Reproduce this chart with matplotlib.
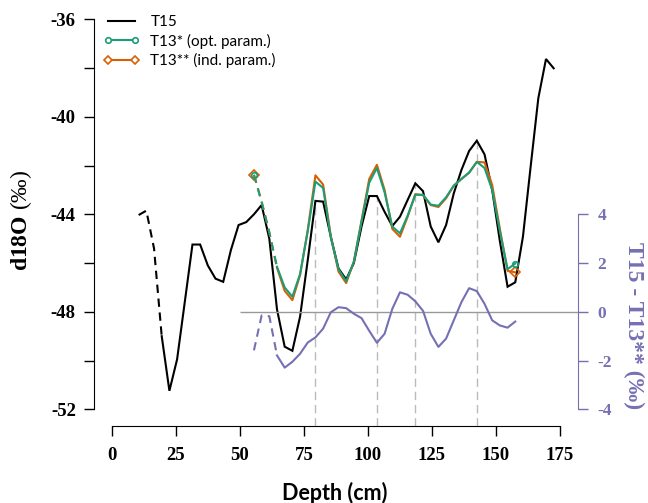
import matplotlib
matplotlib.use("Agg")
import matplotlib.pyplot as plt
from matplotlib.lines import Line2D

plt.rcParams['mathtext.fontset'] = 'custom'
plt.rcParams['mathtext.rm'] = 'Liberation Serif'
plt.rcParams['mathtext.bf'] = 'Liberation Serif:bold'
plt.rcParams['axes.unicode_minus'] = False

# ---------------- data ----------------
depth_t15 = [10.5, 13.5, 16.5, 19.5, 22.5, 25.5, 28.5, 31.5, 34.5, 37.5, 40.5, 43.5,
             46.5, 49.5, 52.5, 55.5, 58.5, 61.5, 64.5, 67.5, 70.5, 73.5, 76.5, 79.5,
             82.5, 85.5, 88.5, 91.5, 94.5, 97.5, 100.5, 103.5, 106.5, 109.5, 112.5,
             115.5, 118.5, 121.5, 124.5, 127.5, 130.5, 133.5, 136.5, 139.5, 142.5,
             145.5, 148.5, 151.5, 154.5, 157.5, 160.5, 163.5, 166.5, 169.5, 172.5]
t15 = [-44.03, -43.85, -45.4, -49.0, -51.24, -49.95, -47.6, -45.24, -45.24, -46.1, -46.64, -46.77,
       -45.47, -44.44, -44.32, -44.0, -43.62, -45.0, -47.9, -49.43, -49.6, -48.2, -45.88, -43.45,
       -43.48, -44.92, -46.22, -46.67, -46.0, -44.5, -43.25, -43.25, -43.9, -44.48, -44.1,
       -43.41, -42.73, -43.05, -44.5, -45.15, -44.44, -43.14, -42.18, -41.4, -40.98,
       -41.54, -43.0, -45.1, -46.97, -46.79, -44.92, -42.05, -39.24, -37.63, -38.01]
t15_gap_end = 3   # index where the dashed (gap) part of T15 ends

depth_t13 = [55.5, 58.5, 61.5, 64.5, 67.5, 70.5, 73.5, 76.5, 79.5, 82.5, 85.5, 88.5,
             91.5, 94.5, 97.5, 100.5, 103.5, 106.5, 109.5, 112.5, 115.5, 118.5, 121.5,
             124.5, 127.5, 130.5, 133.5, 136.5, 139.5, 142.5, 145.5, 148.5, 151.5,
             154.5, 157.5]
t13_opt = [-42.38, -43.5, -44.75, -46.15, -47.0, -47.38, -46.45, -44.7, -42.66, -42.92, -44.95, -46.25,
           -46.75, -45.95, -44.3, -42.7, -42.1, -43.1, -44.5, -44.78, -44.05, -43.2, -43.2,
           -43.6, -43.65, -43.3, -42.82, -42.55, -42.28, -41.85, -42.1, -43.0, -44.7,
           -46.25, -46.02]
t13_ind = [-42.38, -43.47, -44.74, -46.2, -47.14, -47.52, -46.5, -44.64, -42.4, -42.78, -44.9, -46.35,
           -46.82, -45.93, -44.25, -42.55, -41.97, -43.0, -44.6, -44.92, -44.1, -43.17, -43.22,
           -43.62, -43.7, -43.34, -42.83, -42.55, -42.3, -41.85, -41.87, -42.8, -44.6,
           -46.32, -46.38]
diff = [-1.58, -0.15, -0.18, -1.79, -2.29, -2.05, -1.72, -1.26, -1.05, -0.69, -0.02, 0.19,
        0.15, -0.08, -0.26, -0.78, -1.27, -0.9, 0.12, 0.8, 0.7, 0.43, 0.04,
        -0.9, -1.44, -1.1, -0.35, 0.4, 0.97, 0.85, 0.33, -0.35, -0.56,
        -0.65, -0.4]
t13_gap_end = 3

peak_depths = [79.5, 103.5, 118.5, 142.5]
peak_values = [-43.45, -43.25, -42.73, -40.98]

x_ticks = [0, 25, 50, 75, 100, 125, 150, 175]
y_ticks = [-52, -48, -44, -40, -36]
y_minor = [-50, -46, -42, -38]
r_ticks = [-4, -2, 0, 2, 4]

# ---------------- style ----------------
BLACK = '#000000'
GREEN = '#1b9e77'
ORANGE = '#d95f02'
PURPLE = '#7570b3'
SERIF = 'Liberation Serif'
SANS = 'Lato'
DASH = (4, 2.7)

fig = plt.figure(figsize=(6.48, 5.03), dpi=100)
ax = fig.add_axes([0.1448, 0.1523, 0.7472, 0.8433])
ax.set_xlim(-7, 182)
ax.set_ylim(-52.7, -35.3)

# vertical reference lines
ax.vlines(peak_depths, -52.7, peak_values, colors='#bbbbbb', linewidth=1.0,
          linestyles=(0, (6, 3.5)), zorder=1)

# T15
ax.plot(depth_t15[:t15_gap_end + 1], t15[:t15_gap_end + 1], color=BLACK, lw=1.5,
        dashes=DASH, zorder=3)
ax.plot(depth_t15[t15_gap_end:], t15[t15_gap_end:], color=BLACK, lw=1.5, zorder=3,
        solid_joinstyle='miter')

# T13**
ax.plot(depth_t13[:t13_gap_end + 1], t13_ind[:t13_gap_end + 1], color=ORANGE, lw=1.5,
        dashes=DASH, zorder=4)
ax.plot(depth_t13[t13_gap_end:], t13_ind[t13_gap_end:], color=ORANGE, lw=1.5, zorder=4)
ax.plot([depth_t13[0], depth_t13[-1]], [t13_ind[0], t13_ind[-1]], ls='none',
        marker='D', ms=5, mfc='none', mec=ORANGE, mew=1.2, zorder=5)
# T13*
ax.plot(depth_t13[:t13_gap_end + 1], t13_opt[:t13_gap_end + 1], color=GREEN, lw=1.5,
        dashes=DASH, zorder=4)
ax.plot(depth_t13[t13_gap_end:], t13_opt[t13_gap_end:], color=GREEN, lw=1.5, zorder=4)
ax.plot([depth_t13[0], depth_t13[-1]], [t13_opt[0], t13_opt[-1]], ls='none',
        marker='o', ms=4, mfc='none', mec=GREEN, mew=1.2, zorder=5)

for s in ['top', 'right']:
    ax.spines[s].set_visible(False)
ax.spines['left'].set_bounds(-52, -36)
ax.spines['bottom'].set_bounds(0, 175)
ax.set_xticks(x_ticks)
ax.set_yticks(y_ticks)
ax.set_yticks(y_minor, minor=True)
ax.tick_params(axis='both', which='both', direction='out', length=7, width=1)
ax.tick_params(axis='x', pad=8)
ax.tick_params(axis='y', pad=6)
for lab in ax.get_xticklabels() + ax.get_yticklabels():
    lab.set_fontfamily(SERIF)
    lab.set_fontweight('bold')
    lab.set_fontsize(13.5)

# difference axis
ax2 = ax.twinx()
ax2.set_ylim(-4.7, 12.7)
ax2.hlines(0, 50, 182, colors='#999999', linewidth=1.0, zorder=1)
ax2.plot(depth_t13[:t13_gap_end + 1], diff[:t13_gap_end + 1], color=PURPLE, lw=1.5,
         dashes=DASH)
ax2.plot(depth_t13[t13_gap_end:], diff[t13_gap_end:], color=PURPLE, lw=1.5)
for s in ['top', 'left', 'bottom']:
    ax2.spines[s].set_visible(False)
ax2.spines['right'].set_bounds(-4, 4)
ax2.spines['right'].set_color(PURPLE)
ax2.set_yticks(r_ticks)
ax2.tick_params(axis='y', direction='out', length=7, width=1, colors=PURPLE, pad=7)
for lab in ax2.get_yticklabels():
    lab.set_fontfamily(SERIF)
    lab.set_fontweight('bold')
    lab.set_fontsize(12.5)
    lab.set_color(PURPLE)

# labels
fig.text(335 / 648, 1 - 493 / 503, 'Depth (cm)', fontfamily=SANS, fontweight='bold',
         fontsize=15.5, ha='center', va='center')
fig.text(21 / 648, 1 - 220 / 503, r'$\mathbf{d18O}$ (‰)', fontfamily=SERIF,
         fontsize=17, rotation=90, ha='center', va='center')
fig.text(634 / 648, 1 - 326 / 503, 'T15 - T13** (‰)', fontfamily=SERIF, fontweight='bold',
         fontsize=17, rotation=270, ha='center', va='center', color=PURPLE)

# legend
handles = [
    Line2D([], [], color=BLACK, lw=1.5),
    Line2D([], [], color=GREEN, lw=1.5, marker='o', ms=4, mfc='white', mec=GREEN, mew=1.2),
    Line2D([], [], color=ORANGE, lw=1.5, marker='D', ms=4, mfc='white', mec=ORANGE, mew=1.2),
]
labels = ['T15', 'T13* (opt. param.)', 'T13** (ind. param.)']
leg = ax.legend(handles, labels, loc='upper left', bbox_to_anchor=(103 / 648, 1 - 15 / 503),
                bbox_transform=fig.transFigure, frameon=False, numpoints=2,
                handlelength=2.4, handletextpad=0.7, labelspacing=0.3, borderpad=0,
                borderaxespad=0, prop={'family': SANS, 'size': 11})

fig.savefig('out.png', dpi=100)
